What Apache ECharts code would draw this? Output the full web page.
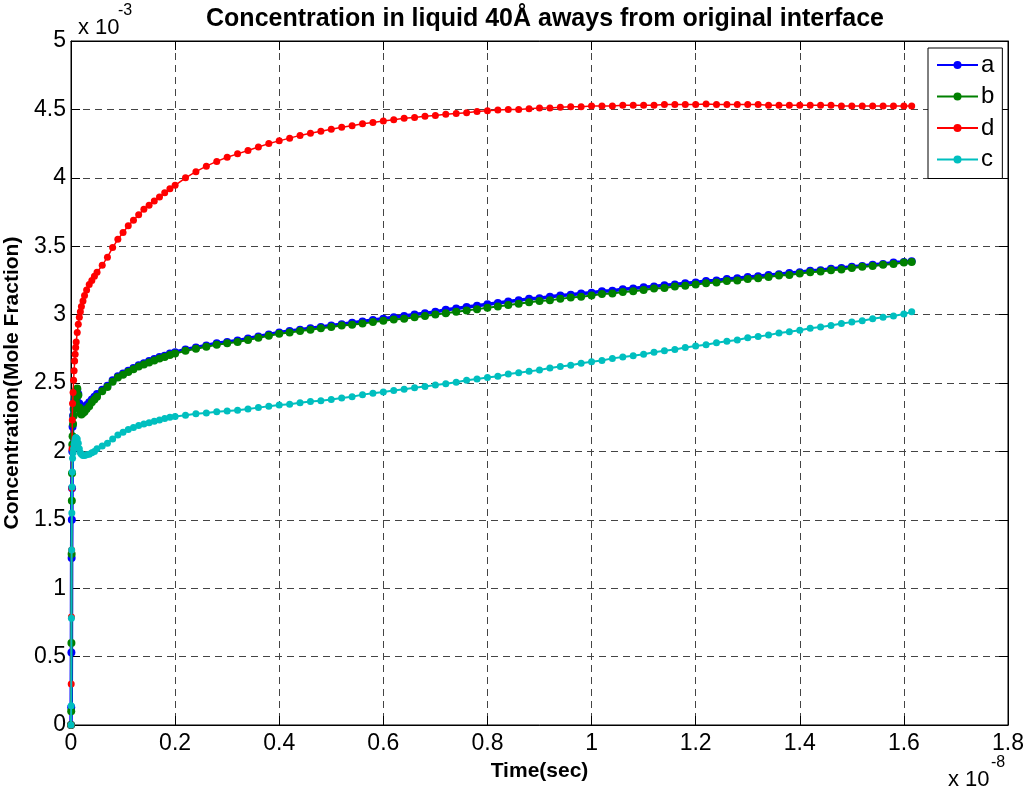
<!DOCTYPE html>
<html>
<head>
<meta charset="utf-8">
<script src="https://cdn.jsdelivr.net/npm/echarts@6/dist/echarts.min.js"></script>
<style>
html,body{margin:0;padding:0;background:#fff;}
#chart{width:1023px;height:793px;}
</style>
</head>
<body>
<div id="chart"></div>
<script>
// Time (units of 1e-8 s)
var times = [
  0, 0.0004, 0.0008, 0.0012, 0.0016, 0.002, 0.0025, 0.003, 0.004, 0.005,
  0.006, 0.007, 0.008, 0.009, 0.01, 0.012, 0.014, 0.016, 0.018, 0.02,
  0.023, 0.026, 0.03, 0.035, 0.04, 0.045, 0.05, 0.06, 0.07, 0.08,
  0.09, 0.1, 0.11, 0.12, 0.13, 0.14, 0.15, 0.16, 0.17, 0.18,
  0.19, 0.2,
  0.22, 0.24, 0.26, 0.28, 0.30, 0.32, 0.34, 0.36, 0.38, 0.40,
  0.42, 0.44, 0.46, 0.48, 0.50, 0.52, 0.54, 0.56, 0.58, 0.60,
  0.62, 0.64, 0.66, 0.68, 0.70, 0.72, 0.74, 0.76, 0.78, 0.80,
  0.82, 0.84, 0.86, 0.88, 0.90, 0.92, 0.94, 0.96, 0.98, 1.00,
  1.02, 1.04, 1.06, 1.08, 1.10, 1.12, 1.14, 1.16, 1.18, 1.20,
  1.22, 1.24, 1.26, 1.28, 1.30, 1.32, 1.34, 1.36, 1.38, 1.40,
  1.42, 1.44, 1.46, 1.48, 1.50, 1.52, 1.54, 1.56, 1.58, 1.60,
  1.615
];

// Concentration (units of 1e-3 mole fraction)
var seriesA = [
  0, 0.13, 0.53, 1.22, 1.5, 1.73, 2.0, 2.18, 2.26, 2.31,
  2.35, 2.38, 2.40, 2.42, 2.44, 2.45, 2.42, 2.35, 2.30, 2.30,
  2.31, 2.32, 2.34, 2.36, 2.38, 2.40, 2.42, 2.45, 2.48, 2.52,
  2.55, 2.57, 2.59, 2.61, 2.63, 2.645, 2.66, 2.675, 2.69, 2.70,
  2.715, 2.725,
  2.745, 2.76, 2.775, 2.79, 2.80, 2.81, 2.825, 2.84, 2.855, 2.87,
  2.88, 2.89, 2.90, 2.91, 2.92, 2.93, 2.94, 2.95, 2.96, 2.97,
  2.98, 2.99, 3.00, 3.01, 3.02, 3.035, 3.045, 3.055, 3.065, 3.075,
  3.085, 3.095, 3.105, 3.115, 3.12, 3.13, 3.14, 3.145, 3.155, 3.16,
  3.17, 3.175, 3.185, 3.19, 3.20, 3.205, 3.215, 3.22, 3.23, 3.235,
  3.245, 3.25, 3.26, 3.265, 3.275, 3.28, 3.29, 3.295, 3.305, 3.31,
  3.32, 3.325, 3.335, 3.34, 3.35, 3.355, 3.365, 3.37, 3.38, 3.385,
  3.39
];
var seriesB = [
  0, 0.1, 0.6, 1.25, 1.64, 1.84, 2.05, 2.11, 2.2, 2.26,
  2.31, 2.35, 2.39, 2.42, 2.45, 2.46, 2.41, 2.32, 2.28, 2.27,
  2.28, 2.29, 2.31, 2.33, 2.36, 2.38, 2.40, 2.44, 2.47, 2.51,
  2.54, 2.56, 2.58, 2.60, 2.62, 2.635, 2.65, 2.665, 2.68, 2.69,
  2.705, 2.715,
  2.735, 2.75, 2.765, 2.78, 2.79, 2.80, 2.815, 2.83, 2.845, 2.86,
  2.87, 2.88, 2.89, 2.90, 2.91, 2.92, 2.925, 2.935, 2.945, 2.955,
  2.965, 2.97, 2.98, 2.99, 3.0, 3.01, 3.02, 3.03, 3.04, 3.05,
  3.06, 3.07, 3.08, 3.09, 3.10, 3.105, 3.115, 3.125, 3.13, 3.14,
  3.15, 3.155, 3.165, 3.17, 3.18, 3.19, 3.195, 3.205, 3.21, 3.22,
  3.23, 3.235, 3.245, 3.25, 3.26, 3.265, 3.275, 3.285, 3.29, 3.30,
  3.31, 3.315, 3.325, 3.33, 3.34, 3.35, 3.355, 3.365, 3.37, 3.38,
  3.385
];
var seriesD = [
  0, 0.3, 0.79, 1.28, 1.73, 2.02, 2.23, 2.35, 2.43, 2.52,
  2.59, 2.66, 2.71, 2.76, 2.80, 2.87, 2.93, 2.98, 3.02, 3.06,
  3.10, 3.14, 3.18, 3.22, 3.25, 3.28, 3.31, 3.36, 3.42, 3.49,
  3.55, 3.60, 3.65, 3.69, 3.73, 3.77, 3.80, 3.83, 3.86, 3.89,
  3.92, 3.945,
  4.0, 4.045, 4.085, 4.12, 4.15, 4.175, 4.20, 4.225, 4.25, 4.27,
  4.29, 4.31, 4.325, 4.34, 4.355, 4.37, 4.38, 4.395, 4.405, 4.415,
  4.425, 4.435, 4.44, 4.45, 4.455, 4.465, 4.47, 4.475, 4.485, 4.49,
  4.495, 4.50, 4.50, 4.505, 4.51, 4.51, 4.515, 4.52, 4.52, 4.525,
  4.525, 4.525, 4.53, 4.53, 4.53, 4.53, 4.535, 4.535, 4.535, 4.535,
  4.54, 4.535, 4.535, 4.535, 4.535, 4.535, 4.53, 4.53, 4.53, 4.53,
  4.53, 4.53, 4.53, 4.525, 4.525, 4.525, 4.525, 4.525, 4.525, 4.525,
  4.525
];
var seriesC = [
  0, 0.14, 0.78, 1.28, 1.55, 1.74, 1.85, 1.95, 1.99, 2.02,
  2.05, 2.07, 2.09, 2.10, 2.10, 2.09, 2.06, 2.02, 1.99, 1.98,
  1.97, 1.97, 1.975, 1.98, 1.99, 2.0, 2.02, 2.04, 2.06, 2.09,
  2.12, 2.14, 2.16, 2.175, 2.19, 2.20, 2.21, 2.22, 2.23, 2.24,
  2.25, 2.255,
  2.265, 2.275, 2.28, 2.29, 2.295, 2.30, 2.31, 2.32, 2.33, 2.34,
  2.345, 2.355, 2.365, 2.37, 2.38, 2.39, 2.40, 2.415, 2.425, 2.435,
  2.445, 2.455, 2.465, 2.475, 2.485, 2.495, 2.505, 2.52, 2.53, 2.54,
  2.55, 2.565, 2.575, 2.585, 2.595, 2.61, 2.62, 2.63, 2.645, 2.655,
  2.665, 2.68, 2.69, 2.70, 2.71, 2.725, 2.735, 2.745, 2.76, 2.77,
  2.78, 2.795, 2.805, 2.815, 2.83, 2.84, 2.85, 2.865, 2.875, 2.885,
  2.90, 2.91, 2.92, 2.935, 2.945, 2.955, 2.97, 2.98, 2.99, 3.005,
  3.02
];

var seriesNames = ['a', 'b', 'd', 'c'];
var xTickLabels = ['0', '0.2', '0.4', '0.6', '0.8', '1', '1.2', '1.4', '1.6', '1.8'];
var yTickLabels = ['0', '0.5', '1', '1.5', '2', '2.5', '3', '3.5', '4', '4.5', '5'];

function zip(xs, ys) {
  var out = [];
  for (var i = 0; i < xs.length && i < ys.length; i++) out.push([xs[i], ys[i]]);
  return out;
}

var FONT = "'Liberation Sans', Arial, sans-serif";
var chart = echarts.init(document.getElementById('chart'), null, {renderer: 'canvas'});

function mkSeries(name, vals, color, lw, ms, z) {
  return {
    name: name,
    type: 'line',
    data: zip(times, vals),
    symbol: 'circle',
    symbolSize: ms,
    showSymbol: true,
    showAllSymbol: true,
    z: z,
    lineStyle: {color: color, width: lw},
    itemStyle: {color: color, borderWidth: 0},
    emphasis: {disabled: true},
    animation: false
  };
}

var gridLine = {show: true, lineStyle: {color: '#444', type: [7, 5], width: 1}};

var option = {
  animation: false,
  backgroundColor: '#fff',
  title: {
    text: 'Concentration in liquid 40Å aways from original interface',
    left: 540,
    textAlign: 'center',
    top: 2,
    textStyle: {fontFamily: FONT, fontWeight: 'bold', fontSize: 25, color: '#000'}
  },
  grid: {left: 71, right: 15, top: 41, bottom: 68, outerBoundsMode: 'none', containLabel: false,
    show: true, borderColor: '#000', borderWidth: 1, backgroundColor: '#fff'},
  legend: {
    orient: 'vertical',
    left: 928,
    top: 48,
    width: 74,
    padding: [5, 8, 7, 8],
    itemGap: 7.5,
    itemWidth: 41,
    itemHeight: 10,
    backgroundColor: '#fff',
    borderColor: '#000',
    borderWidth: 1,
    borderRadius: 0,
    textStyle: {fontFamily: FONT, fontSize: 24, color: '#000', padding: [0, 0, 0, -2]},
    data: seriesNames
  },
  xAxis: [{
    type: 'value',
    min: 0, max: 1.8, interval: 0.2,
    name: 'Time(sec)',
    nameLocation: 'middle',
    nameGap: 36,
    nameTextStyle: {fontFamily: FONT, fontWeight: 'bold', fontSize: 21, color: '#000'},
    axisLine: {show: true, onZero: false, lineStyle: {color: '#000', width: 1}},
    axisTick: {show: true, inside: true, length: 9, lineStyle: {color: '#000'}},
    axisLabel: {fontFamily: FONT, fontSize: 23, color: '#000', margin: 7,
      formatter: function (v) { return xTickLabels[Math.round(v / 0.2)]; }},
    splitLine: gridLine
  }, {
    type: 'value', position: 'top',
    min: 0, max: 1.8, interval: 0.2,
    axisLine: {show: true, onZero: false, lineStyle: {color: '#000'}},
    axisTick: {show: true, inside: true, length: 9, lineStyle: {color: '#000'}},
    axisLabel: {show: false},
    splitLine: {show: false}
  }],
  yAxis: [{
    type: 'value',
    min: 0, max: 5, interval: 0.5,
    name: 'Concentration(Mole Fraction)',
    nameLocation: 'middle',
    nameGap: 46,
    nameTextStyle: {fontFamily: FONT, fontWeight: 'bold', fontSize: 21, color: '#000'},
    axisLine: {show: true, onZero: false, lineStyle: {color: '#000', width: 1}},
    axisTick: {show: true, inside: true, length: 9, lineStyle: {color: '#000'}},
    axisLabel: {fontFamily: FONT, fontSize: 23, color: '#000', margin: 5,
      formatter: function (v) { return yTickLabels[Math.round(v / 0.5)]; }},
    splitLine: gridLine
  }, {
    type: 'value', position: 'right',
    min: 0, max: 5, interval: 0.5,
    axisLine: {show: true, onZero: false, lineStyle: {color: '#000'}},
    axisTick: {show: true, inside: true, length: 9, lineStyle: {color: '#000'}},
    axisLabel: {show: false},
    splitLine: {show: false}
  }],
  graphic: [
    {type: 'text', left: 78, top: 17, style: {text: 'x 10', font: '22px ' + FONT, fill: '#000'}},
    {type: 'text', left: 118, top: 3, style: {text: '-3', font: '16px ' + FONT, fill: '#000'}},
    {type: 'text', left: 948, top: 769, style: {text: 'x 10', font: '22px ' + FONT, fill: '#000'}},
    {type: 'text', left: 991, top: 755, style: {text: '-8', font: '16px ' + FONT, fill: '#000'}}
  ],
  series: [
    mkSeries('a', seriesA, '#0000FF', 3.5, 8, 2),
    mkSeries('b', seriesB, '#008000', 2, 8, 3),
    mkSeries('d', seriesD, '#FF0000', 1.5, 7, 4),
    mkSeries('c', seriesC, '#00BFBF', 2, 7, 5)
  ]
};
chart.setOption(option);
</script>
</body>
</html>
